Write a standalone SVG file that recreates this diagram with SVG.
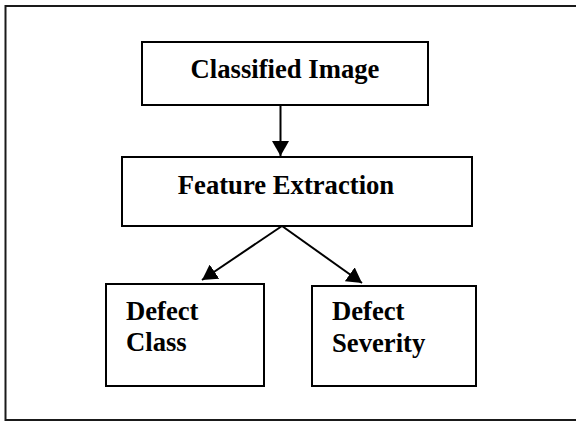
<svg xmlns="http://www.w3.org/2000/svg" width="576" height="422" viewBox="0 0 576 422">
  <defs>
    <style>
      .box { fill: #ffffff; stroke: #000000; stroke-width: 2; }
      .frame { fill: #ffffff; stroke: #1a1a1a; stroke-width: 2; }
      .lbl { font-family: "Liberation Serif", "Times New Roman", serif; font-weight: bold; font-size: 26.67px; fill: #000000; }
      .edge { stroke: #000000; stroke-width: 2; fill: none; }
    </style>
    <marker id="arrow" viewBox="0 0 15 17" refX="15" refY="8.5" markerWidth="7.5" markerHeight="8.5" markerUnits="strokeWidth" orient="auto">
      <path d="M0,0 L15,8.5 L0,17 Z" fill="#000000"/>
    </marker>
  </defs>

  <!-- outer frame (right side runs past the canvas) -->
  <rect class="frame" x="5.5" y="6" width="600" height="414"/>

  <g id="classified-image">
    <rect class="box" x="142" y="42" width="286" height="63"/>
    <text class="lbl" x="285" y="78" text-anchor="middle">Classified Image</text>
  </g>

  <g id="feature-extraction">
    <rect class="box" x="122" y="157" width="350" height="69"/>
    <text class="lbl" x="286" y="194" text-anchor="middle">Feature Extraction</text>
  </g>

  <g id="defect-class">
    <rect class="box" x="106" y="284" width="158" height="102"/>
    <text class="lbl" x="126" y="320">Defect</text>
    <text class="lbl" x="126" y="351">Class</text>
  </g>

  <g id="defect-severity">
    <rect class="box" x="312" y="286" width="164" height="100"/>
    <text class="lbl" x="332" y="320">Defect</text>
    <text class="lbl" x="332" y="352">Severity</text>
  </g>

  <g id="connectors">
    <line class="edge" x1="280.5" y1="105" x2="280.5" y2="156" marker-end="url(#arrow)"/>
    <line class="edge" x1="282" y1="226" x2="202" y2="280" marker-end="url(#arrow)"/>
    <line class="edge" x1="282" y1="226" x2="362" y2="283" marker-end="url(#arrow)"/>
  </g>
</svg>
